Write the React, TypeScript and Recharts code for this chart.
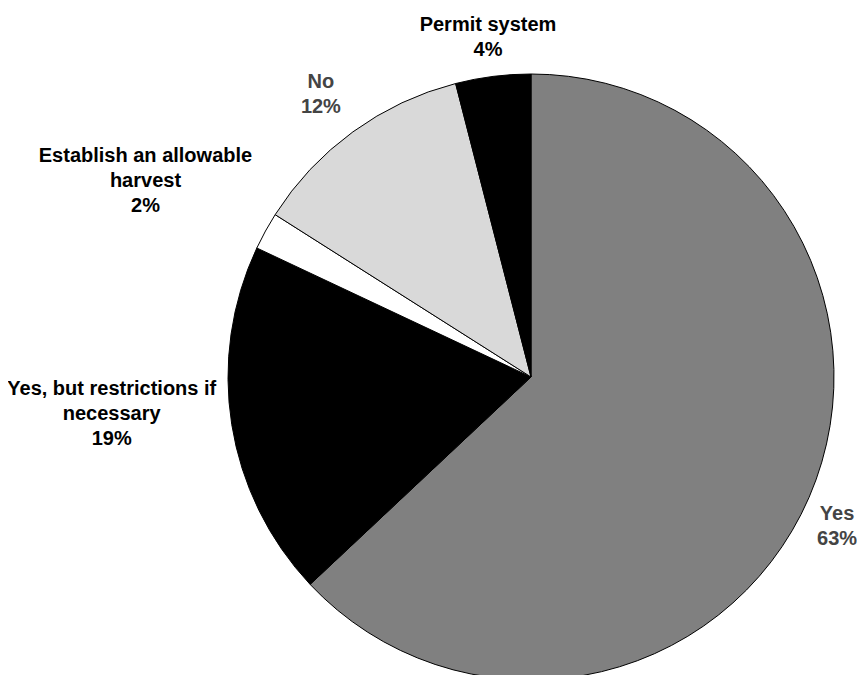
import { PieChart, Pie, Cell } from 'recharts';

// Survey answers, clockwise from 12 o'clock
const categories = [
  'Yes',
  'Yes, but restrictions if\nnecessary',
  'Establish an allowable\nharvest',
  'No',
  'Permit system',
];
const shares = [63, 19, 2, 12, 4];
const sliceColors = ['#808080', '#000000', '#ffffff', '#d9d9d9', '#000000'];
const labelColors = ['#444444', '#000000', '#000000', '#444444', '#000000'];

// label block placement relative to the slice's outer edge point: [centerX, firstBaseline]
const labelOffsets: [number, number][] = [
  [28, 23],
  [-120, -29],
  [-120, -69],
  [-32, -44],
  [-5, -45],
];

const data = categories.map((name, i) => ({ name, value: shares[i] }));

const RADIAN = Math.PI / 180;
const LINE_HEIGHT = 25;

const renderLabel = (props: any) => {
  const { cx, cy, midAngle, outerRadius, index, name, value } = props;
  const ex = cx + outerRadius * Math.cos(-midAngle * RADIAN);
  const ey = cy + outerRadius * Math.sin(-midAngle * RADIAN);
  const [dx, dy] = labelOffsets[index];
  const lines = [...String(name).split('\n'), `${value}%`];
  return (
    <text
      x={ex + dx}
      y={ey + dy}
      textAnchor="middle"
      fill={labelColors[index]}
      fontFamily='"Liberation Sans", Arial, sans-serif'
      fontWeight="bold"
      fontSize={20}
    >
      {lines.map((line, i) => (
        <tspan key={i} x={ex + dx} dy={i === 0 ? 0 : LINE_HEIGHT}>
          {line}
        </tspan>
      ))}
    </text>
  );
};

const App = () => (
  <PieChart width={857} height={667} margin={{ top: 0, right: 0, bottom: 0, left: 0 }}>
    <Pie
      data={data}
      dataKey="value"
      nameKey="name"
      cx={523}
      cy={369}
      outerRadius={303}
      startAngle={90}
      endAngle={-270}
      stroke="#000000"
      strokeWidth={1}
      label={renderLabel}
      labelLine={false}
      isAnimationActive={false}
    >
      {data.map((item, idx) => (
        <Cell key={`cell-${idx}`} fill={sliceColors[idx]} />
      ))}
    </Pie>
  </PieChart>
);

export default App;
